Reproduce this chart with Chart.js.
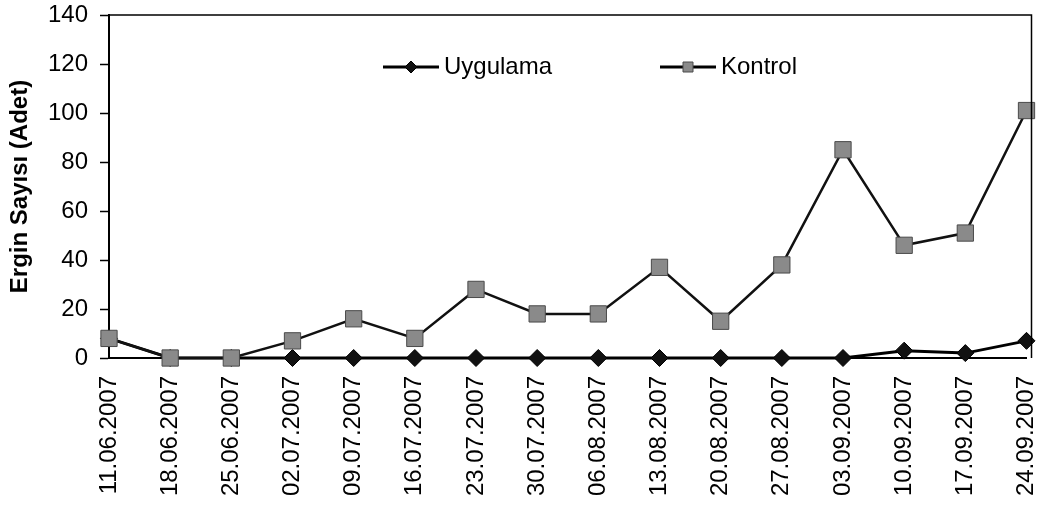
<!DOCTYPE html>
<html>
<head>
<meta charset="utf-8">
<script src="https://cdn.jsdelivr.net/npm/chart.js@4/dist/chart.umd.min.js"></script>
<style>
  html, body { margin: 0; padding: 0; background: #fff; }
  #wrap { width: 1039px; height: 506px; position: relative; }
</style>
</head>
<body>
<div id="wrap"><canvas id="c"></canvas></div>
<script>
// Weekly sampling dates
const dates = [
  '11.06.2007', '18.06.2007', '25.06.2007', '02.07.2007', '09.07.2007', '16.07.2007',
  '23.07.2007', '30.07.2007', '06.08.2007', '13.08.2007', '20.08.2007', '27.08.2007',
  '03.09.2007', '10.09.2007', '17.09.2007', '24.09.2007'
];
// Adult counts per plot
const uygulama = [8, 0, 0, 0, 0, 0, 0, 0, 0, 0, 0, 0, 0, 3, 2, 7];
const kontrol  = [8, 0, 0, 7, 16, 8, 28, 18, 18, 37, 15, 38, 85, 46, 51, 101];
// Y axis range
const yMin = 0, yMax = 140, yStep = 20;

const FONT = '"Liberation Sans", Arial, sans-serif';

// Frame around the plot area (top and right edges)
const framePlugin = {
  id: 'frame',
  afterDraw(chart) {
    const a = chart.chartArea, ctx = chart.ctx;
    ctx.save();
    ctx.strokeStyle = '#000';
    ctx.lineWidth = 1.5;
    ctx.beginPath();
    ctx.moveTo(a.left, a.top);
    ctx.lineTo(a.right + 5, a.top);
    ctx.lineTo(a.right + 5, a.bottom);
    ctx.stroke();
    ctx.restore();
  }
};

// Legend drawn inside the plot area
const innerLegend = {
  id: 'innerLegend',
  afterDatasetsDraw(chart) {
    const ctx = chart.ctx;
    const items = [
      { ds: chart.data.datasets[0], x: 383 },
      { ds: chart.data.datasets[1], x: 660 }
    ];
    const y = 67;
    ctx.save();
    items.forEach(it => {
      const ds = it.ds;
      ctx.strokeStyle = '#000';
      ctx.lineWidth = 3;
      ctx.beginPath();
      ctx.moveTo(it.x, y);
      ctx.lineTo(it.x + 56, y);
      ctx.stroke();
      ctx.fillStyle = ds.pointBackgroundColor;
      ctx.strokeStyle = ds.pointBorderColor;
      ctx.lineWidth = 1;
      const cx = it.x + 28;
      ctx.beginPath();
      if (ds.pointStyle === 'rectRot') {
        const r = 6;
        ctx.moveTo(cx, y - r); ctx.lineTo(cx + r, y); ctx.lineTo(cx, y + r); ctx.lineTo(cx - r, y);
        ctx.closePath();
      } else {
        ctx.rect(cx - 5, y - 5, 10, 10);
      }
      ctx.fill();
      ctx.stroke();
      ctx.fillStyle = '#000';
      ctx.font = '24px ' + FONT;
      ctx.textBaseline = 'middle';
      ctx.textAlign = 'left';
      ctx.fillText(ds.label, it.x + 61, y);
    });
    ctx.restore();
  }
};

new Chart(document.getElementById('c'), {
  type: 'line',
  data: {
    labels: dates,
    datasets: [
      {
        label: 'Uygulama',
        data: uygulama,
        borderColor: '#000',
        borderWidth: 3,
        pointStyle: 'rectRot',
        pointRadius: 8.5,
        pointBackgroundColor: '#111',
        pointBorderColor: '#000',
        pointBorderWidth: 1,
        tension: 0,
        clip: false,
        order: 1
      },
      {
        label: 'Kontrol',
        data: kontrol,
        borderColor: '#111',
        borderWidth: 2.5,
        pointStyle: 'rect',
        pointRadius: 11.5,
        pointBackgroundColor: '#8a8a8a',
        pointBorderColor: '#4a4a4a',
        pointBorderWidth: 1,
        tension: 0,
        clip: false,
        order: 0
      }
    ]
  },
  options: {
    responsive: true,
    maintainAspectRatio: false,
    animation: false,
    layout: { padding: { left: 0, top: 15, right: 5, bottom: 0 } },
    plugins: {
      legend: { display: false },
      tooltip: { enabled: false }
    },
    scales: {
      x: {
        offset: false,
        grid: { display: true, drawOnChartArea: false, drawTicks: false },
        border: { display: true, color: '#000', width: 2 },
        ticks: {
          color: '#000',
          font: { family: FONT, size: 24 },
          maxRotation: 90,
          minRotation: 90,
          autoSkip: false,
          padding: 18
        },
        afterFit(scale) {
          scale.height = 148;
          scale.paddingLeft = 0;
          scale.paddingRight = 0;
        }
      },
      y: {
        min: yMin,
        max: yMax,
        grid: { display: true, drawOnChartArea: false, drawTicks: true, tickLength: 9, color: '#000', tickWidth: 1.5 },
        border: { display: true, color: '#000', width: 2 },
        ticks: {
          stepSize: yStep,
          color: '#000',
          font: { family: FONT, size: 24 },
          padding: 12
        },
        title: {
          display: true,
          text: 'Ergin Sayısı (Adet)',
          color: '#000',
          font: { family: FONT, size: 24, weight: 'bold' },
          padding: { top: 6, bottom: 0 }
        },
        afterFit(scale) {
          scale.width = 109;
          scale.paddingTop = 0;
          scale.paddingBottom = 0;
        }
      }
    }
  },
  plugins: [framePlugin, innerLegend]
});
</script>
</body>
</html>
